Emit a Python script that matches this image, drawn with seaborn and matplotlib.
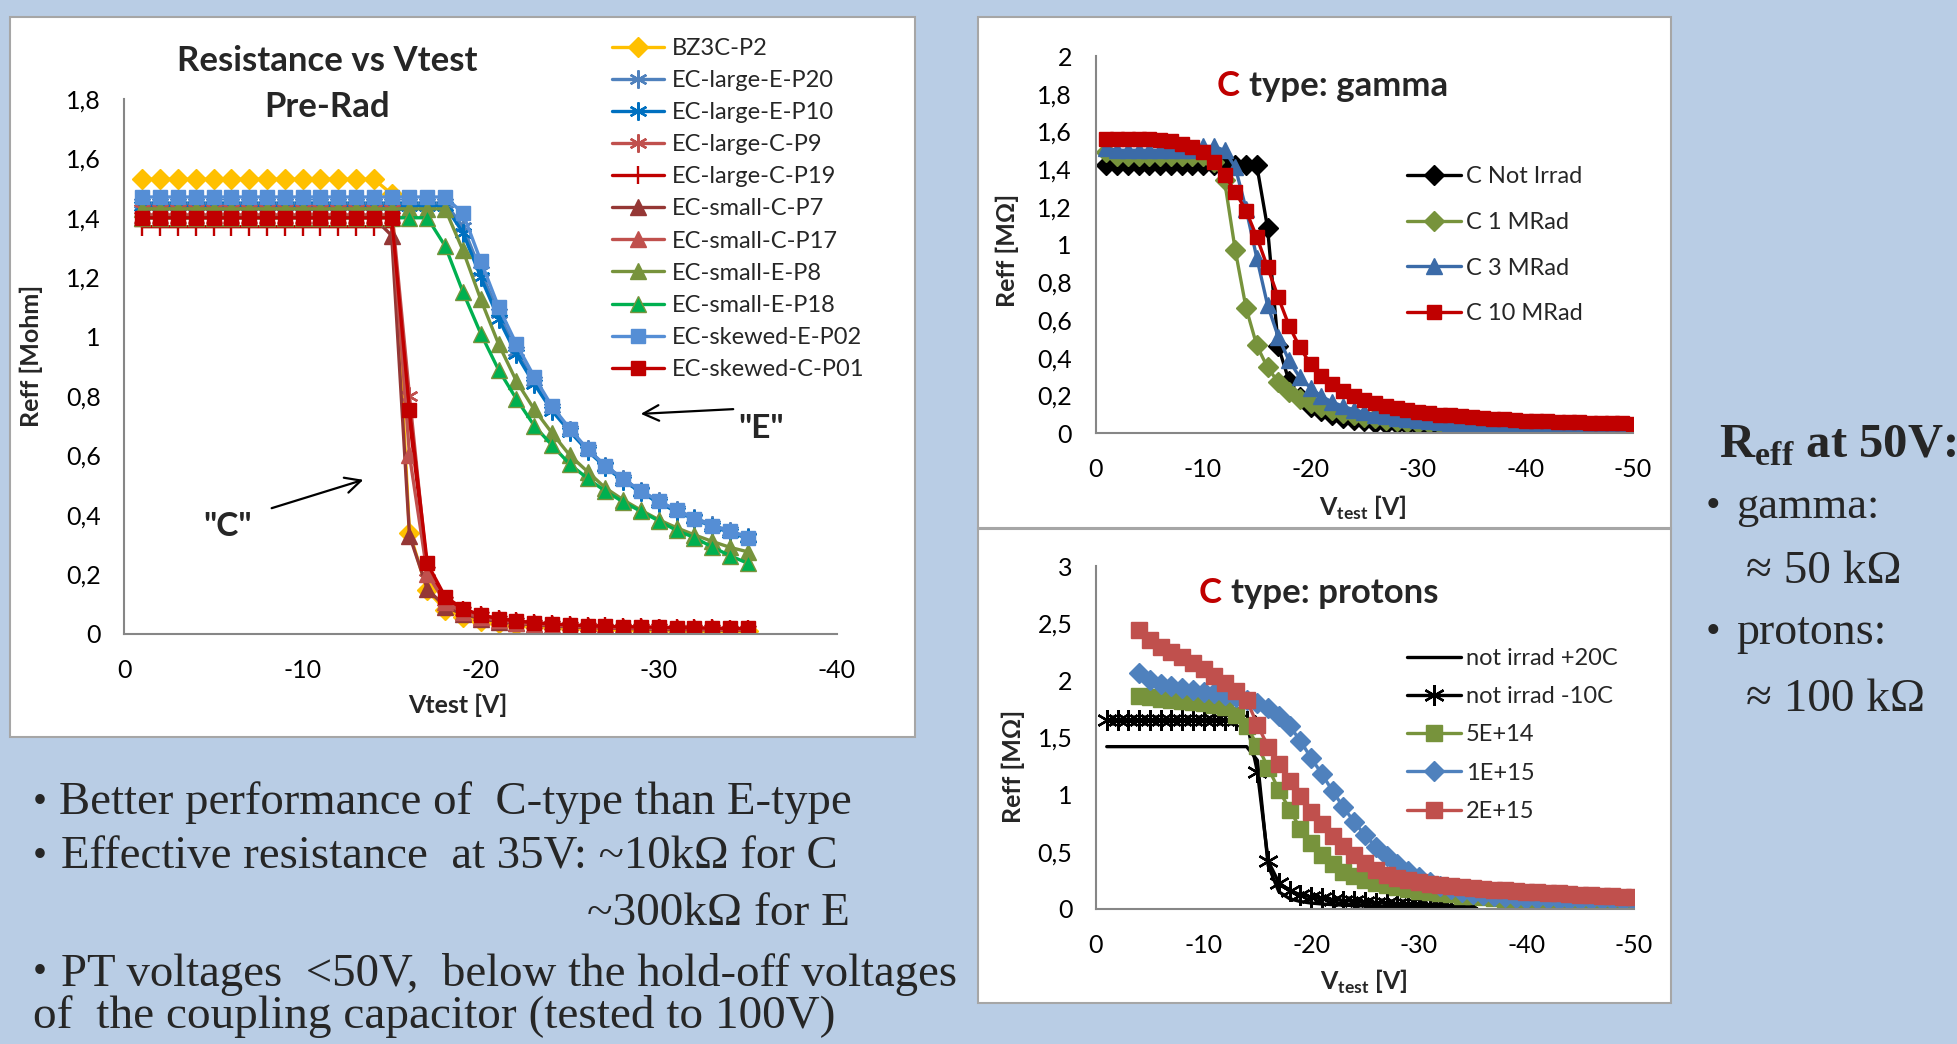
import matplotlib
matplotlib.use("Agg")
import matplotlib.pyplot as plt
import seaborn as sns
from matplotlib.patches import Rectangle

# ------------------------------------------------------------------ data
# Pre-Rad chart (Vtest from -1 to -35 V)
v_pre = [-1, -2, -3, -4, -5, -6, -7, -8, -9, -10, -11, -12, -13, -14, -15, -16, -17, -18,
         -19, -20, -21, -22, -23, -24, -25, -26, -27, -28, -29, -30, -31, -32, -33, -34, -35]
bz3c_p2 = [1.53, 1.53, 1.53, 1.53, 1.53, 1.53, 1.53, 1.53, 1.53, 1.53, 1.53, 1.53, 1.53, 1.53,
           1.48, 0.34, 0.145, 0.08, 0.056, 0.042, 0.034, 0.028, 0.024, 0.021, 0.019, 0.017,
           0.015, 0.014, 0.013, 0.012, 0.011, 0.010, 0.010, 0.009, 0.009]
large_e_p20 = [1.45, 1.45, 1.45, 1.45, 1.45, 1.45, 1.45, 1.45, 1.45, 1.45, 1.45, 1.45, 1.45,
               1.45, 1.45, 1.45, 1.45, 1.45, 1.37, 1.22, 1.08, 0.95, 0.85, 0.76, 0.685, 0.62,
               0.565, 0.52, 0.48, 0.445, 0.415, 0.39, 0.365, 0.345, 0.325]
large_e_p10 = [1.44, 1.44, 1.44, 1.44, 1.44, 1.44, 1.44, 1.44, 1.44, 1.44, 1.44, 1.44, 1.44,
               1.44, 1.44, 1.44, 1.44, 1.44, 1.35, 1.20, 1.06, 0.94, 0.84, 0.75, 0.68, 0.615,
               0.56, 0.515, 0.475, 0.44, 0.41, 0.385, 0.36, 0.34, 0.32]
large_c_p9 = [1.43, 1.43, 1.43, 1.43, 1.43, 1.43, 1.43, 1.43, 1.43, 1.43, 1.43, 1.43, 1.43,
              1.43, 1.43, 0.80, 0.21, 0.11, 0.075, 0.058, 0.046, 0.038, 0.032, 0.028, 0.025,
              0.022, 0.020, 0.019, 0.018, 0.017, 0.016, 0.015, 0.014, 0.013, 0.013]
large_c_p19 = [1.37, 1.37, 1.37, 1.37, 1.37, 1.37, 1.37, 1.37, 1.37, 1.37, 1.37, 1.37, 1.37,
               1.37, 1.37, 0.72, 0.22, 0.115, 0.08, 0.062, 0.05, 0.042, 0.036, 0.032, 0.028,
               0.026, 0.024, 0.022, 0.021, 0.020, 0.019, 0.018, 0.017, 0.016, 0.016]
small_c_p7 = [1.40, 1.40, 1.40, 1.40, 1.40, 1.40, 1.40, 1.40, 1.40, 1.40, 1.40, 1.40, 1.40,
              1.40, 1.34, 0.33, 0.15, 0.09, 0.065, 0.05, 0.04, 0.034, 0.029, 0.025, 0.022,
              0.020, 0.018, 0.017, 0.015, 0.014, 0.013, 0.012, 0.012, 0.011, 0.011]
small_c_p17 = [1.41, 1.41, 1.41, 1.41, 1.41, 1.41, 1.41, 1.41, 1.41, 1.41, 1.41, 1.41, 1.41,
               1.41, 1.41, 0.60, 0.20, 0.105, 0.072, 0.055, 0.044, 0.037, 0.032, 0.028, 0.025,
               0.022, 0.020, 0.019, 0.018, 0.017, 0.016, 0.015, 0.014, 0.013, 0.013]
small_e_p8 = [1.43, 1.43, 1.43, 1.43, 1.43, 1.43, 1.43, 1.43, 1.43, 1.43, 1.43, 1.43, 1.43,
              1.43, 1.43, 1.43, 1.43, 1.43, 1.29, 1.125, 0.975, 0.85, 0.755, 0.675, 0.60,
              0.545, 0.49, 0.45, 0.415, 0.383, 0.356, 0.332, 0.31, 0.29, 0.275]
small_e_p18 = [1.40, 1.40, 1.40, 1.40, 1.40, 1.40, 1.40, 1.40, 1.40, 1.40, 1.40, 1.40, 1.40,
               1.40, 1.40, 1.40, 1.40, 1.305, 1.15, 1.01, 0.888, 0.79, 0.70, 0.634, 0.57,
               0.522, 0.479, 0.443, 0.411, 0.379, 0.347, 0.323, 0.291, 0.262, 0.236]
skewed_e_p02 = [1.47, 1.47, 1.47, 1.47, 1.47, 1.47, 1.47, 1.47, 1.47, 1.47, 1.47, 1.47, 1.47,
                1.47, 1.47, 1.47, 1.47, 1.47, 1.415, 1.255, 1.10, 0.975, 0.865, 0.765, 0.69,
                0.62, 0.565, 0.52, 0.48, 0.446, 0.415, 0.387, 0.363, 0.344, 0.323]
skewed_c_p01 = [1.40, 1.40, 1.40, 1.40, 1.40, 1.40, 1.40, 1.40, 1.40, 1.40, 1.40, 1.40, 1.40,
                1.40, 1.40, 0.753, 0.236, 0.124, 0.084, 0.062, 0.05, 0.042, 0.036, 0.032,
                0.029, 0.026, 0.024, 0.023, 0.022, 0.021, 0.020, 0.019, 0.018, 0.017, 0.017]
pre_labels = ["BZ3C-P2", "EC-large-E-P20", "EC-large-E-P10", "EC-large-C-P9", "EC-large-C-P19",
              "EC-small-C-P7", "EC-small-C-P17", "EC-small-E-P8", "EC-small-E-P18",
              "EC-skewed-E-P02", "EC-skewed-C-P01"]
pre_values = [bz3c_p2, large_e_p20, large_e_p10, large_c_p9, large_c_p19, small_c_p7,
              small_c_p17, small_e_p8, small_e_p18, skewed_e_p02, skewed_c_p01]
pre_xticks = [0, -10, -20, -30, -40]
pre_xticklabels = ["0", "-10", "-20", "-30", "-40"]
pre_yticks = [0, 0.2, 0.4, 0.6, 0.8, 1.0, 1.2, 1.4, 1.6, 1.8]
pre_yticklabels = ["0", "0,2", "0,4", "0,6", "0,8", "1", "1,2", "1,4", "1,6", "1,8"]

# Gamma chart (Vtest from -1 to -50 V)
v_gamma = [-1, -2, -3, -4, -5, -6, -7, -8, -9, -10, -11, -12, -13, -14, -15, -16, -17, -18,
           -19, -20, -21, -22, -23, -24, -25, -26, -27, -28, -29, -30, -31, -32, -33, -34,
           -35, -36, -37, -38, -39, -40, -41, -42, -43, -44, -45, -46, -47, -48, -49, -50]
g_not_irrad = [1.42, 1.42, 1.42, 1.42, 1.42, 1.42, 1.42, 1.42, 1.42, 1.42, 1.42, 1.42, 1.42,
               1.42, 1.42, 1.09, 0.46, 0.277, 0.19, 0.14, 0.115, 0.097, 0.082, 0.07, 0.062,
               0.055, 0.05, 0.046, 0.042, 0.039, 0.036, 0.034, 0.032, 0.03, 0.029, 0.028,
               0.027, 0.026, 0.025, 0.024, 0.023, 0.022, 0.022, 0.021, 0.021, 0.02, 0.02,
               0.019, 0.019, 0.018]
g_1mrad = [1.49, 1.47, 1.47, 1.47, 1.47, 1.47, 1.47, 1.47, 1.47, 1.47, 1.44, 1.34, 0.97,
           0.665, 0.465, 0.348, 0.27, 0.216, 0.183, 0.158, 0.137, 0.12, 0.106, 0.095, 0.085,
           0.077, 0.07, 0.064, 0.059, 0.055, 0.051, 0.048, 0.045, 0.043, 0.041, 0.039, 0.037,
           0.036, 0.035, 0.034, 0.033, 0.032, 0.031, 0.03, 0.03, 0.029, 0.029, 0.028, 0.028,
           0.027]
g_3mrad = [1.51, 1.50, 1.50, 1.50, 1.50, 1.50, 1.50, 1.50, 1.50, 1.52, 1.52, 1.50, 1.41,
           1.19, 0.93, 0.68, 0.51, 0.385, 0.295, 0.24, 0.195, 0.165, 0.142, 0.124, 0.11,
           0.098, 0.088, 0.08, 0.073, 0.067, 0.062, 0.057, 0.053, 0.05, 0.047, 0.044, 0.042,
           0.04, 0.038, 0.036, 0.035, 0.033, 0.032, 0.031, 0.03, 0.029, 0.028, 0.027, 0.026,
           0.026]
g_10mrad = [1.56, 1.56, 1.56, 1.56, 1.56, 1.555, 1.55, 1.535, 1.515, 1.49, 1.44, 1.37, 1.28,
            1.18, 1.04, 0.88, 0.72, 0.57, 0.455, 0.365, 0.305, 0.26, 0.225, 0.197, 0.175,
            0.158, 0.143, 0.131, 0.121, 0.112, 0.105, 0.098, 0.093, 0.088, 0.083, 0.079,
            0.075, 0.072, 0.069, 0.066, 0.064, 0.062, 0.06, 0.058, 0.056, 0.055, 0.053,
            0.052, 0.051, 0.05]
gamma_labels = ["C Not Irrad", "C 1 MRad", "C 3 MRad", "C 10 MRad"]
gamma_values = [g_not_irrad, g_1mrad, g_3mrad, g_10mrad]
irr_xticks = [0, -10, -20, -30, -40, -50]
irr_xticklabels = ["0", "-10", "-20", "-30", "-40", "-50"]
gamma_yticks = [0, 0.2, 0.4, 0.6, 0.8, 1.0, 1.2, 1.4, 1.6, 1.8, 2.0]
gamma_yticklabels = ["0", "0,2", "0,4", "0,6", "0,8", "1", "1,2", "1,4", "1,6", "1,8", "2"]

# Protons chart
v_not_irr = [-1, -2, -3, -4, -5, -6, -7, -8, -9, -10, -11, -12, -13, -14, -15, -16, -17, -18,
             -19, -20, -21, -22, -23, -24, -25, -26, -27, -28, -29, -30, -31, -32, -33, -34, -35]
p_not_irr_20c = [1.42, 1.42, 1.42, 1.42, 1.42, 1.42, 1.42, 1.42, 1.42, 1.42, 1.42, 1.42, 1.42,
                 1.42, 1.30, 0.38, 0.15, 0.09, 0.065, 0.052, 0.044, 0.038, 0.034, 0.03, 0.027,
                 0.025, 0.023, 0.021, 0.02, 0.018, 0.017, 0.016, 0.015, 0.014, 0.013]
p_not_irr_m10c = [1.65, 1.65, 1.65, 1.65, 1.65, 1.65, 1.65, 1.65, 1.65, 1.65, 1.65, 1.65, 1.65,
                  1.64, 1.20, 0.42, 0.23, 0.16, 0.125, 0.105, 0.092, 0.082, 0.074, 0.067,
                  0.061, 0.056, 0.051, 0.047, 0.043, 0.04, 0.036, 0.033, 0.03, 0.027, 0.024]
v_irr = [-4, -5, -6, -7, -8, -9, -10, -11, -12, -13, -14, -15, -16, -17, -18, -19, -20, -21,
         -22, -23, -24, -25, -26, -27, -28, -29, -30, -31, -32, -33, -34, -35, -36, -37, -38,
         -39, -40, -41, -42, -43, -44, -45, -46, -47, -48, -49, -50]
p_5e14 = [1.86, 1.85, 1.84, 1.83, 1.82, 1.81, 1.80, 1.785, 1.765, 1.70, 1.60, 1.43, 1.235,
          1.04, 0.87, 0.70, 0.58, 0.475, 0.39, 0.325, 0.29, 0.255, 0.23, 0.208, 0.19, 0.174,
          0.16, 0.148, 0.137, 0.127, 0.118, 0.11, 0.103, 0.097, 0.091, 0.086, 0.081, 0.077,
          0.073, 0.069, 0.065, 0.062, 0.058, 0.055, 0.052, 0.049, 0.046]
p_1e15 = [2.06, 2.00, 1.97, 1.95, 1.93, 1.915, 1.90, 1.885, 1.87, 1.85, 1.83, 1.80, 1.76,
          1.69, 1.60, 1.47, 1.32, 1.18, 1.03, 0.89, 0.76, 0.645, 0.545, 0.46, 0.39, 0.33,
          0.28, 0.235, 0.2, 0.172, 0.15, 0.133, 0.12, 0.11, 0.102, 0.096, 0.091, 0.087,
          0.084, 0.082, 0.08, 0.078, 0.077, 0.076, 0.075, 0.074, 0.073]
p_2e15 = [2.44, 2.35, 2.29, 2.25, 2.20, 2.15, 2.10, 2.04, 1.98, 1.91, 1.83, 1.61, 1.42, 1.27,
          1.12, 0.99, 0.85, 0.74, 0.64, 0.55, 0.47, 0.40, 0.345, 0.30, 0.27, 0.25, 0.235,
          0.222, 0.211, 0.201, 0.192, 0.184, 0.177, 0.17, 0.164, 0.158, 0.152, 0.146, 0.141,
          0.136, 0.131, 0.126, 0.122, 0.117, 0.113, 0.109, 0.105]
proton_labels = ["not irrad +20C", "not irrad -10C", "5E+14", "1E+15", "2E+15"]
proton_x = [v_not_irr, v_not_irr, v_irr, v_irr, v_irr]
proton_values = [p_not_irr_20c, p_not_irr_m10c, p_5e14, p_1e15, p_2e15]
proton_yticks = [0, 0.5, 1.0, 1.5, 2.0, 2.5, 3.0]
proton_yticklabels = ["0", "0,5", "1", "1,5", "2", "2,5", "3"]

# ------------------------------------------------------------------ styles
ASTER = (6, 2, 0)
pre_styles = {
    "BZ3C-P2": dict(color="#FFC000", marker="D", ms=10.5),
    "EC-large-E-P20": dict(color="#4F81BD", marker=ASTER, ms=13),
    "EC-large-E-P10": dict(color="#0070C0", marker=ASTER, ms=13),
    "EC-large-C-P9": dict(color="#C0504D", marker=ASTER, ms=13),
    "EC-large-C-P19": dict(color="#C00000", marker="|", ms=13),
    "EC-small-C-P7": dict(color="#953735", marker="^", ms=11),
    "EC-small-C-P17": dict(color="#C0504D", marker="^", ms=11),
    "EC-small-E-P8": dict(color="#77933C", marker="^", ms=11),
    "EC-small-E-P18": dict(color="#00B050", marker="^", ms=11, mec="#77933C"),
    "EC-skewed-E-P02": dict(color="#558ED5", marker="s", ms=10),
    "EC-skewed-C-P01": dict(color="#C00000", marker="s", ms=10),
}
gamma_styles = {
    "C Not Irrad": dict(color="#000000", marker="D", ms=10),
    "C 1 MRad": dict(color="#77933C", marker="D", ms=10),
    "C 3 MRad": dict(color="#3B6BA8", marker="^", ms=11),
    "C 10 MRad": dict(color="#C00000", marker="s", ms=10),
}
proton_styles = {
    "not irrad +20C": dict(color="#000000", marker=None, ms=0),
    "not irrad -10C": dict(color="#000000", marker=ASTER, ms=15),
    "5E+14": dict(color="#77933C", marker="s", ms=11),
    "1E+15": dict(color="#4F81BD", marker="D", ms=10),
    "2E+15": dict(color="#C0504D", marker="s", ms=11),
}

BG = "#B9CDE5"
SANS = ["Lato", "DejaVu Sans"]
SERIF = ["Liberation Serif", "DejaVu Serif"]
W, H = 1958, 1044

sns.set_theme(style="white")
plt.rcParams["font.family"] = SANS
plt.rcParams["axes.unicode_minus"] = False

fig = plt.figure(figsize=(W / 100, H / 100), dpi=100, facecolor=BG)


def fx(x):
    return x / W


def fy(y):
    return 1 - y / H


def panel(x0, y0, x1, y1):
    fig.patches.append(Rectangle((fx(x0), fy(y1)), (x1 - x0) / W, (y1 - y0) / H,
                                 transform=fig.transFigure, facecolor="white",
                                 edgecolor="#A6A6A6", linewidth=1.5, zorder=-10))


def make_axes(xl, xr, yb, yt):
    ax = fig.add_axes([fx(xl), fy(yb), (xr - xl) / W, (yb - yt) / H])
    ax.set_zorder(1)
    ax.set_facecolor("none")
    for s in ["top", "right"]:
        ax.spines[s].set_visible(False)
    for s in ["left", "bottom"]:
        ax.spines[s].set_color("#868686")
        ax.spines[s].set_linewidth(1.5)
    ax.tick_params(direction="in", length=7, width=1.5, color="#868686",
                   labelsize=18, labelcolor="black")
    ax.tick_params(axis="y", pad=17)
    ax.tick_params(axis="x", pad=18)
    return ax


def draw(ax, x, y, label, st, lw=2.4):
    mk = st["marker"]
    kw = dict(x=x, y=y, ax=ax, color=st["color"], linewidth=lw, label=label,
              estimator=None, sort=False, legend=False)
    if mk is not None:
        kw.update(marker=mk, markersize=st["ms"],
                  markeredgecolor=st.get("mec", st["color"]),
                  markeredgewidth=1.7 if mk in (ASTER, "|") else 1.0)
    sns.lineplot(**kw)
    ax.set_xlabel("")
    ax.set_ylabel("")


# panels
panel(10, 17, 915, 737)
panel(978, 17, 1671, 528)
panel(978, 529, 1671, 1003)

# ---------------- Pre-Rad chart
ax1 = make_axes(124.5, 837, 633.5, 99)
for lab, vals in zip(pre_labels, pre_values):
    draw(ax1, v_pre, vals, lab, pre_styles[lab])
ax1.set_xlim(0, -40)
ax1.set_ylim(0, 1.8)
ax1.set_xticks(pre_xticks, pre_xticklabels)
ax1.set_yticks(pre_yticks, pre_yticklabels)
h, l = ax1.get_legend_handles_labels()
ax1.legend(h, l, loc="upper left", bbox_to_anchor=(fx(612), fy(38)),
           bbox_transform=fig.transFigure, frameon=False, fontsize=17,
           handlelength=2.2, handletextpad=0.35, labelspacing=0.47, borderpad=0,
           borderaxespad=0)

fig.text(fx(327), fy(61), "Resistance vs Vtest", ha="center", va="center",
         fontsize=25, fontweight="bold", family=SANS)
fig.text(fx(327), fy(107), "Pre-Rad", ha="center", va="center",
         fontsize=25, fontweight="bold", family=SANS)
fig.text(fx(31), fy(356), "Reff [Mohm]", ha="center", va="center", rotation=90,
         fontsize=18, fontweight="bold", family=SANS)
fig.text(fx(458), fy(705), "Vtest [V]", ha="center", va="center",
         fontsize=18, fontweight="bold", family=SANS)

ax1.annotate("", xy=(fx(638), fy(414)), xytext=(fx(736), fy(409)),
             xycoords="figure fraction", textcoords="figure fraction",
             arrowprops=dict(arrowstyle="->", lw=1.6, color="black", mutation_scale=28))
ax1.annotate("", xy=(fx(366), fy(479)), xytext=(fx(269), fy(509)),
             xycoords="figure fraction", textcoords="figure fraction",
             arrowprops=dict(arrowstyle="->", lw=1.6, color="black", mutation_scale=28))
fig.text(fx(761), fy(428), '"E"', ha="center", va="center", fontsize=24,
         fontweight="bold", family=SANS)
fig.text(fx(228), fy(526), '"C"', ha="center", va="center", fontsize=24,
         fontweight="bold", family=SANS)

# ---------------- Gamma chart
ax2 = make_axes(1095.5, 1633, 433, 56)
for lab, vals in zip(gamma_labels, gamma_values):
    draw(ax2, v_gamma, vals, lab, gamma_styles[lab])
ax2.set_xlim(0, -50)
ax2.set_ylim(0, 2)
ax2.set_xticks(irr_xticks, irr_xticklabels)
ax2.set_yticks(gamma_yticks, gamma_yticklabels)
h, l = ax2.get_legend_handles_labels()
ax2.legend(h, l, loc="upper left", bbox_to_anchor=(fx(1407), fy(166)),
           bbox_transform=fig.transFigure, frameon=False, fontsize=17,
           handlelength=2.3, handletextpad=0.2, labelspacing=1.05, borderpad=0,
           borderaxespad=0)
fig.text(fx(1240), fy(86), "C", ha="right", va="center", fontsize=25,
         fontweight="bold", color="#C00000", family=SANS)
fig.text(fx(1249), fy(86), "type: gamma", ha="left", va="center", fontsize=25,
         fontweight="bold", family=SANS)
fig.text(fx(1007), fy(250), "Reff [MΩ]", ha="center", va="center", rotation=90,
         fontsize=18, fontweight="bold", family=SANS)
fig.text(fx(1363), fy(508), r"V$_{\mathregular{test}}$ [V]", ha="center", va="center",
         fontsize=18, fontweight="bold", family="Lato")

# ---------------- Protons chart
ax3 = make_axes(1096, 1634, 909, 566)
for xs, lab, vals in zip(proton_x, proton_labels, proton_values):
    draw(ax3, xs, vals, lab, proton_styles[lab])
ax3.set_xlim(0, -50)
ax3.set_ylim(0, 3)
ax3.set_xticks(irr_xticks, irr_xticklabels)
ax3.set_yticks(proton_yticks, proton_yticklabels)
h, l = ax3.get_legend_handles_labels()
ax3.legend(h, l, loc="upper left", bbox_to_anchor=(fx(1407), fy(648)),
           bbox_transform=fig.transFigure, frameon=False, fontsize=17,
           handlelength=2.3, handletextpad=0.2, labelspacing=0.73, borderpad=0,
           borderaxespad=0)
fig.text(fx(1222), fy(593), "C", ha="right", va="center", fontsize=25,
         fontweight="bold", color="#C00000", family=SANS)
fig.text(fx(1231), fy(593), "type: protons", ha="left", va="center", fontsize=25,
         fontweight="bold", family=SANS)
fig.text(fx(1013), fy(766), "Reff [MΩ]", ha="center", va="center", rotation=90,
         fontsize=18, fontweight="bold", family=SANS)
fig.text(fx(1364), fy(982), r"V$_{\mathregular{test}}$ [V]", ha="center", va="center",
         fontsize=18, fontweight="bold", family="Lato")

# ---------------- slide text
BODY = 34
for yy, xx, txt in [(803, 59, "Better performance of  C-type than E-type"),
                    (857, 61, "Effective resistance  at 35V: ~10kΩ for C"),
                    (974, 61, "PT voltages  <50V,  below the hold-off voltages")]:
    fig.text(fx(33), fy(yy), "•", ha="left", va="center", fontsize=BODY * 0.85, family=SERIF)
    fig.text(fx(xx), fy(yy), txt, ha="left", va="center", fontsize=BODY * 0.99, family=SERIF)
fig.text(fx(587), fy(914), "~300kΩ for E", ha="left", va="center", fontsize=BODY, family=SERIF)
fig.text(fx(33), fy(1016), "of  the coupling capacitor (tested to 100V)", ha="left",
         va="center", fontsize=BODY, family=SERIF)

fig.text(fx(1719), fy(446), r"R$_{\mathregular{eff}}$ at 50V:", ha="left", va="center",
         fontsize=35, fontweight="bold", family="Liberation Serif")
fig.text(fx(1706), fy(507), "•", ha="left", va="center", fontsize=30, family=SERIF)
fig.text(fx(1736), fy(507), "gamma:", ha="left", va="center", fontsize=32, family=SERIF)
fig.text(fx(1746), fy(572), "≈ 50 kΩ", ha="left", va="center", fontsize=34, family=SERIF)
fig.text(fx(1706), fy(633), "•", ha="left", va="center", fontsize=30, family=SERIF)
fig.text(fx(1736), fy(633), "protons:", ha="left", va="center", fontsize=33, family=SERIF)
fig.text(fx(1746), fy(700), "≈ 100 kΩ", ha="left", va="center", fontsize=34, family=SERIF)

fig.savefig("out.png", dpi=100, facecolor=BG)
